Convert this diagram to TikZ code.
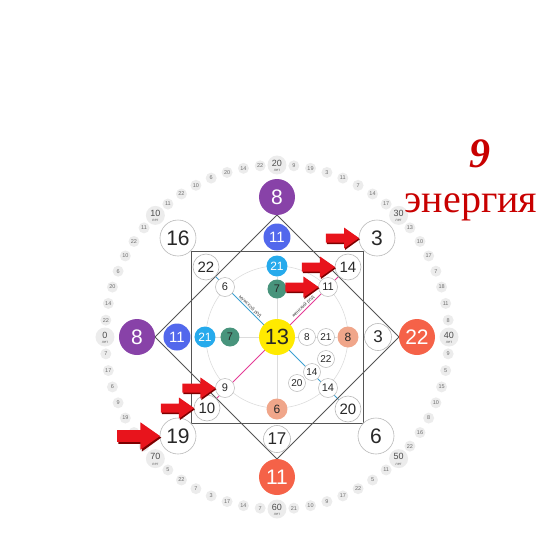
\documentclass[tikz,border=0pt]{standalone}
\usepackage{fontspec}
\setmainfont{Liberation Sans}
\newfontfamily\redserif{Liberation Serif}
\usetikzlibrary{backgrounds}
\definecolor{purp}{RGB}{136,66,168}
\definecolor{orng}{RGB}{245,98,72}
\definecolor{blu}{RGB}{82,104,236}
\definecolor{cyn}{RGB}{38,170,236}
\definecolor{grn}{RGB}{72,148,124}
\definecolor{slm}{RGB}{240,166,138}
\definecolor{ylw}{RGB}{255,234,0}
\definecolor{ringfill}{RGB}{236,236,236}
\definecolor{ringtxt}{RGB}{110,110,110}
\definecolor{edge}{RGB}{185,185,185}
\definecolor{framec}{RGB}{85,85,85}
\definecolor{malec}{RGB}{60,160,210}
\definecolor{femc}{RGB}{228,60,150}
\definecolor{arrred}{RGB}{232,20,28}
\definecolor{arrdark}{RGB}{125,0,0}
\definecolor{titlered}{RGB}{200,0,0}
\definecolor{txt}{RGB}{40,40,40}
\definecolor{innerc}{RGB}{220,220,220}
\newcommand\fsz[1]{\fontsize{#1}{#1}\selectfont}
\tikzset{
  every node/.style={inner sep=0pt, outer sep=0pt},
  disc/.style={circle, text=txt},
  bigcol/.style={disc, minimum size=36pt, fill=#1, text=white, font=\fsz{21}},
  outerw/.style={disc, minimum size=36pt, fill=white, draw=edge, line width=0.6pt, font=\fsz{21}},
  crosscol/.style={disc, minimum size=27pt, fill=#1, text=white, font=\fsz{15}},
  crossw/.style={disc, minimum size=27pt, fill=white, draw=edge, line width=0.6pt, font=\fsz{17}},
  cornerw/.style={disc, minimum size=26pt, fill=white, draw=edge, line width=0.6pt, font=\fsz{15}},
  midcol/.style={disc, minimum size=21pt, fill=#1, text=white, font=\fsz{12}},
  diagw/.style={disc, minimum size=19pt, fill=white, draw=edge, line width=0.5pt, font=\fsz{11}},
  greendisc/.style={disc, minimum size=19pt, fill=grn, text=txt, font=\fsz{11}},
  smallw/.style={disc, minimum size=17pt, fill=white, draw=edge, line width=0.5pt, font=\fsz{10}},
  centre/.style={disc, minimum size=36pt, fill=ylw, font=\fsz{22}},
  major/.style={disc, minimum size=19pt, fill=ringfill},
  majnum/.style={text=ringtxt!70!black, font=\fsz{9}},
  majlet/.style={text=ringtxt, font=\fsz{4}},
  minor/.style={disc, minimum size=11pt, fill=ringfill, text=ringtxt, font=\fsz{5.5}},
  innerline/.style={draw=innerc, line width=0.6pt},
  maleline/.style={draw=malec, line width=0.9pt},
  femline/.style={draw=femc, line width=0.9pt},
  frameline/.style={draw=framec, line width=0.9pt},
  lbl/.style={text=gray!60!black, font=\fsz{5}},
  redarrow/.pic={
    \fill[arrdark] (-32,-6)--(-14,-6)--(-14,-12)--(1,-1.2)--(-14,9)--(-14,3)--(-32,3)--cycle;
    \fill[arrred] (-33,4.5)--(-15,4.5)--(-15,10.5)--(0,0)--(-15,-10.5)--(-15,-4.5)--(-33,-4.5)--cycle;
  }
}
\begin{document}
\begin{tikzpicture}[x=1pt,y=1pt]
\useasboundingbox (-277,-210) rectangle (272,337);
% outer age ring
\foreach \k/\y in {0/0,1/10,2/20,3/30,4/40,5/50,6/60,7/70}{
  \node[major] (m\k) at ({180-45*\k}:172) {};
  \node[majnum] (mn\k) at ([yshift=2pt]m\k.center) {\y};
  \node[majlet] (ml\k) at ([yshift=-5.5pt]m\k.center) {лет};
}
\foreach \i/\v in {1/22,2/14,3/20,4/6,5/10,6/22,7/11,
  9/11,10/22,11/10,12/6,13/20,14/14,15/22,
  17/9,18/19,19/3,20/11,21/7,22/14,23/17,
  25/13,26/10,27/17,28/7,29/18,30/11,31/8,
  33/9,34/5,35/15,36/10,37/8,38/16,39/22,
  41/11,42/5,43/22,44/17,45/9,46/10,47/21,
  49/7,50/14,51/17,52/3,53/7,54/22,55/5,
  59/19,60/9,61/6,62/17,63/7}{
  \node[minor] (r\i) at ({180-5.625*\i}:172) {\v};
}
\foreach \i in {57,58}{
  \node[minor] (r\i) at ({180-5.625*\i}:172) {};
}
% main circles
\node[bigcol=purp] (pT) at (0,140) {8};
\node[bigcol=purp] (pL) at (-140,0) {8};
\node[bigcol=orng] (oR) at (140,0) {22};
\node[bigcol=orng] (oB) at (0,-140) {11};
\node[outerw] (o16) at (-99,99) {16};
\node[outerw] (o3) at (100,99) {3};
\node[outerw] (o19) at (-99,-99) {19};
\node[outerw] (o6) at (99,-99) {6};
\node[crosscol=blu] (bT) at (0,100) {11};
\node[crosscol=blu] (bL) at (-100,0) {11};
\node[crossw] (wR) at (101,0) {3};
\node[crossw] (wB) at (0,-102) {17};
\node[cornerw] (k22) at (-71,70) {22};
\node[cornerw] (k14) at (71,70) {14};
\node[cornerw] (k10) at (-70,-71) {10};
\node[cornerw] (k20) at (71,-72) {20};
\node[midcol=cyn] (cT) at (0,71) {21};
\node[midcol=cyn] (cL) at (-72,0) {21};
\node[midcol=slm, text=txt] (sR) at (71,0) {8};
\node[midcol=slm, text=txt] (sB) at (0,-72) {6};
\node[diagw] (d6) at (-52,50) {6};
\node[diagw] (d11) at (51,50) {11};
\node[diagw] (d9) at (-52,-51) {9};
\node[diagw] (d14) at (51,-51) {14};
\node[greendisc] (gT) at (0,48) {7};
\node[greendisc] (gL) at (-47,0) {7};
\node[centre] (c13) at (0,0) {13};
\node[smallw] (s8) at (30,0) {8};
\node[smallw] (s21) at (49,0) {21};
\node[smallw] (s22) at (49,-22) {22};
\node[smallw] (s14) at (35,-35) {14};
\node[smallw] (s20) at (20,-46) {20};
% lines under the circles
\begin{scope}[on background layer]
  \draw[innerline] (c13.center) circle (71);
  \draw[innerline] (cL) -- (sR);
  \draw[innerline] (cT) -- (sB);
  \draw[maleline] (k22) -- (k20);
  \draw[femline] (k10) -- (k14);
  \draw[frameline] (-86,-86) rectangle (86,86);
  \draw[frameline] (pT.south) -- (oR.west) -- (oB.north) -- (pL.east) -- cycle;
\end{scope}
\path (d6) -- (c13) node[midway, sloped, above=1pt, lbl] (tmale) {мужской род};
\path (c13) -- (d11) node[midway, sloped, above=1pt, lbl] (tfem) {женский род};
% red arrows
\pic at (o3.west) {redarrow};
\pic at (k14.west) {redarrow};
\pic at (d11.west) {redarrow};
\pic at (d9.west) {redarrow};
\pic at (k10.west) {redarrow};
\pic[scale=1.3] at (o19.west) {redarrow};
% title
\node[anchor=base, text=titlered, font=\redserif\bfseries\itshape\fsz{42}] (nine) at (203,170) {9};
\node[anchor=base, text=titlered, font=\redserif\fsz{40}] (energy) at (194,125) {энергия};
\end{tikzpicture}
\end{document}
